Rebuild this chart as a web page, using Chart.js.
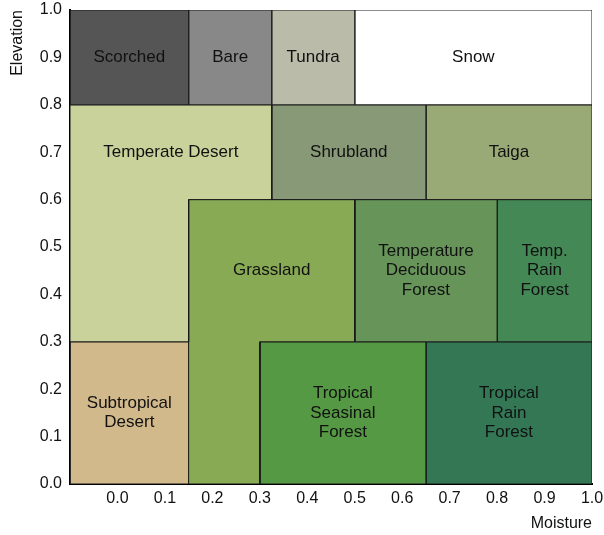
<!DOCTYPE html>
<html>
<head>
<meta charset="utf-8">
<script src="https://cdn.jsdelivr.net/npm/chart.js@4/dist/chart.umd.min.js"></script>
<style>
  html, body { margin: 0; padding: 0; background: #fff; }
  #wrap { width: 604px; height: 535px; }
</style>
</head>
<body>
<div id="wrap"><canvas id="my-chart"></canvas></div>
<script>
// biome regions: polygon corners in (moisture, elevation)
const biomeNames = ['Scorched', 'Bare', 'Tundra', 'Snow', 'Temperate Desert', 'Shrubland', 'Taiga',
  'Grassland', 'Temperature Deciduous Forest', 'Temp. Rain Forest', 'Subtropical Desert',
  'Tropical Seasinal Forest', 'Tropical Rain Forest'];
const biomeX = [
  [-0.1, 0.15, 0.15, -0.1],
  [0.15, 0.325, 0.325, 0.15],
  [0.325, 0.5, 0.5, 0.325],
  [0.5, 1.0, 1.0, 0.5],
  [-0.1, 0.325, 0.325, 0.15, 0.15, -0.1],
  [0.325, 0.65, 0.65, 0.325],
  [0.65, 1.0, 1.0, 0.65],
  [0.15, 0.5, 0.5, 0.3, 0.3, 0.15],
  [0.5, 0.8, 0.8, 0.5],
  [0.8, 1.0, 1.0, 0.8],
  [-0.1, 0.15, 0.15, -0.1],
  [0.3, 0.65, 0.65, 0.3],
  [0.65, 1.0, 1.0, 0.65]
];
const biomeY = [
  [0.8, 0.8, 1.0, 1.0],
  [0.8, 0.8, 1.0, 1.0],
  [0.8, 0.8, 1.0, 1.0],
  [0.8, 0.8, 1.0, 1.0],
  [0.8, 0.8, 0.6, 0.6, 0.3, 0.3],
  [0.6, 0.6, 0.8, 0.8],
  [0.6, 0.6, 0.8, 0.8],
  [0.6, 0.6, 0.3, 0.3, 0.0, 0.0],
  [0.3, 0.3, 0.6, 0.6],
  [0.3, 0.3, 0.6, 0.6],
  [0.0, 0.0, 0.3, 0.3],
  [0.0, 0.0, 0.3, 0.3],
  [0.0, 0.0, 0.3, 0.3]
];
const biomeColors = ['#555555', '#888888', '#bbbbaa', '#ffffff', '#c9d29b', '#889977', '#99aa77',
  '#88aa55', '#679459', '#448855', '#d2b98b', '#559944', '#337755'];
const labelLines = [['Scorched'], ['Bare'], ['Tundra'], ['Snow'], ['Temperate Desert'], ['Shrubland'], ['Taiga'],
  ['Grassland'], ['Temperature', 'Deciduous', 'Forest'], ['Temp.', 'Rain', 'Forest'], ['Subtropical', 'Desert'],
  ['Tropical', 'Seasinal', 'Forest'], ['Tropical', 'Rain', 'Forest']];
const labelX = [0.025, 0.2375, 0.4125, 0.75, 0.1125, 0.4875, 0.825, 0.325, 0.65, 0.9, 0.025, 0.475, 0.825];
const labelY = [0.9, 0.9, 0.9, 0.9, 0.7, 0.7, 0.7, 0.45, 0.45, 0.45, 0.15, 0.15, 0.15];

const FONT = "'Liberation Sans', Arial, Helvetica, sans-serif";

const datasets = biomeNames.map((name, i) => {
  const pts = biomeX[i].map((x, k) => ({ x: x, y: biomeY[i][k] }));
  pts.push(pts[0]);
  return {
    label: name,
    data: pts,
    showLine: true,
    fill: 'shape',
    backgroundColor: biomeColors[i],
    borderColor: '#1a1a1a',
    borderWidth: 1,
    pointRadius: 0,
    tension: 0
  };
});

const biomeLabels = {
  id: 'biomeLabels',
  afterDatasetsDraw(chart) {
    const ctx = chart.ctx;
    const xs = chart.scales.x, ys = chart.scales.y;
    ctx.save();
    ctx.font = '17px ' + FONT;
    ctx.fillStyle = '#111';
    ctx.textAlign = 'center';
    ctx.textBaseline = 'middle';
    const lh = 19.5;
    labelLines.forEach((lines, i) => {
      const cx = xs.getPixelForValue(labelX[i]);
      const cy = ys.getPixelForValue(labelY[i]);
      const top = cy - (lines.length - 1) * lh / 2;
      lines.forEach((t, k) => ctx.fillText(t, cx, top + k * lh));
    });
    ctx.restore();
  }
};

const ctx = document.getElementById('my-chart');
new Chart(ctx, {
  type: 'scatter',
  data: { datasets: datasets },
  plugins: [biomeLabels],
  options: {
    responsive: true,
    maintainAspectRatio: false,
    animation: false,
    layout: { padding: { top: 10, right: 12, left: 0, bottom: 0 } },
    plugins: { legend: { display: false }, tooltip: { enabled: false } },
    scales: {
      x: {
        type: 'linear',
        min: -0.1,
        max: 1.0,
        grid: { display: false, drawTicks: false },
        border: { display: true, color: '#000', width: 2 },
        ticks: {
          stepSize: 0.1,
          color: '#111',
          font: { family: FONT, size: 16 },
          padding: 5,
          callback: v => v < -0.05 ? '' : v.toFixed(1)
        },
        title: { display: true, text: 'Moisture', align: 'end', color: '#111', font: { family: FONT, size: 16 }, padding: { top: 0, bottom: 2 } },
        afterFit: s => { s.height = 51; s.paddingLeft = 0; s.paddingRight = 0; }
      },
      y: {
        type: 'linear',
        min: 0,
        max: 1.0,
        grid: { display: false, drawTicks: false },
        border: { display: true, color: '#000', width: 2 },
        ticks: {
          stepSize: 0.1,
          color: '#111',
          font: { family: FONT, size: 16 },
          padding: 8,
          callback: v => v.toFixed(1)
        },
        title: { display: true, text: 'Elevation', align: 'end', color: '#111', font: { family: FONT, size: 16 }, padding: { top: 8, bottom: 2 } },
        afterFit: s => { s.width = 70; s.paddingTop = 0; s.paddingBottom = 0; }
      }
    }
  }
});
</script>
</body>
</html>
